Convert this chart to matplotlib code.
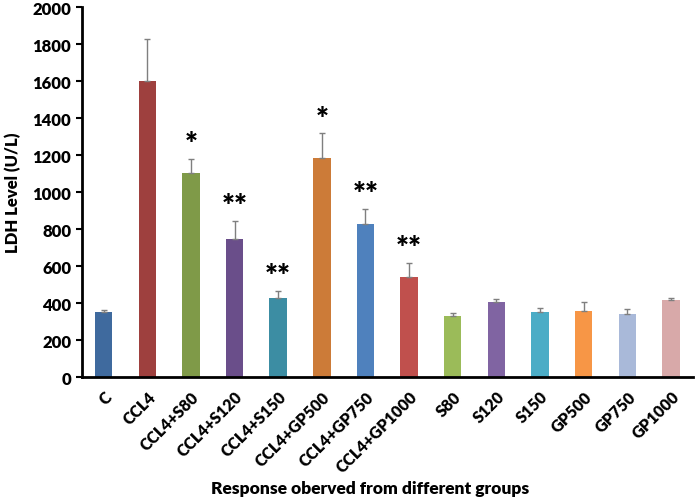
import matplotlib
matplotlib.use("Agg")
import matplotlib.pyplot as plt
import numpy as np

categories = ["C", "CCL4", "CCL4+S80", "CCL4+S120", "CCL4+S150", "CCL4+GP500",
              "CCL4+GP750", "CCL4+GP1000", "S80", "S120", "S150", "GP500", "GP750", "GP1000"]
values = [350, 1598, 1105, 745, 425, 1182, 828, 540, 330, 405, 350, 358, 338, 418]
errors = [10, 227, 72, 97, 42, 135, 80, 75, 18, 14, 22, 47, 27, 8]
stars = ["", "", "*", "**", "**", "*", "**", "**", "", "", "", "", "", ""]
colors = ["#3F6A9E", "#9E403E", "#7F9A48", "#6A4E8A", "#3C8DA3", "#CC7B38",
          "#4F81BD", "#C0504D", "#9BBB59", "#8064A2", "#4BACC6", "#F79646",
          "#A9B9D9", "#D8A9A9"]

plt.rcParams['font.family'] = ['Lato', 'DejaVu Sans']
fig = plt.figure(figsize=(6.99, 5.02), dpi=100)
ax = fig.add_axes([0.117, 0.247, 0.874, 0.737])

x = np.arange(len(categories))
ax.bar(x, values, width=0.4, color=colors, zorder=2)
ax.errorbar(x, values, yerr=[np.zeros(len(errors)), errors], fmt='none',
            ecolor='#7f7f7f', elinewidth=1, capsize=2.5, capthick=1, zorder=3)
for xi, v, e, s in zip(x, values, errors, stars):
    if s:
        ax.text(xi, v + e + 80, s, ha='center', va='center', fontsize=22,
                fontweight='heavy', color='black')

ax.set_xlim(-0.5, len(categories) - 0.5)
ax.set_ylim(0, 2000)
ax.set_yticks(np.arange(0, 2001, 200))
ax.tick_params(axis='y', labelsize=12, length=4, width=1.5, direction='out')
ax.tick_params(axis='x', length=0, pad=8)
for lab in ax.get_yticklabels():
    lab.set_fontweight('heavy')
ax.set_xticks(x)
ax.set_xticklabels(categories, rotation=45, ha='right', rotation_mode='anchor',
                   fontsize=11.5, fontweight='heavy')
for sp in ['top', 'right']:
    ax.spines[sp].set_visible(False)
ax.spines['left'].set_linewidth(2)
ax.spines['bottom'].set_linewidth(2)
ax.set_ylabel("LDH Level (U/L)", fontsize=12, fontweight='heavy', labelpad=8)
fig.text(0.53, 0.025, "Response oberved from different groups", ha='center',
         va='center', fontsize=12.5, fontweight='heavy')
fig.savefig("out.png", dpi=100)
